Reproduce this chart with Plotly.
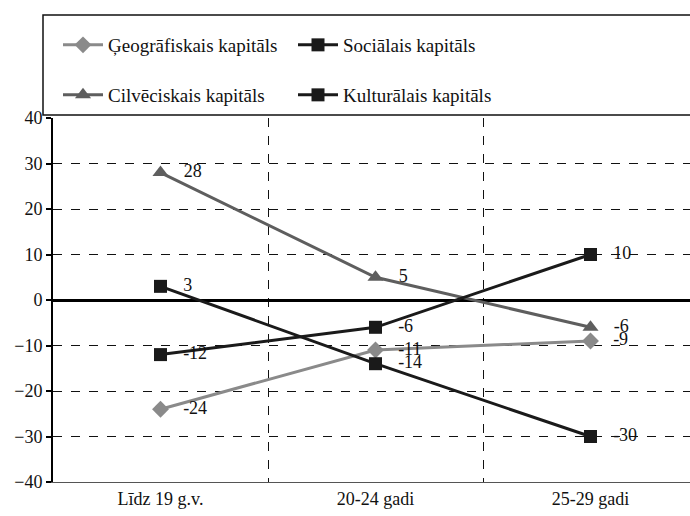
import plotly.graph_objects as go

categories = ["Līdz 19 g.v.", "20-24 gadi", "25-29 gadi"]
geo = [-24, -11, -9]
soc = [3, -14, -30]
cilv = [28, 5, -6]
kult = [-12, -6, 10]
y_ticks = [-40, -30, -20, -10, 0, 10, 20, 30, 40]

FONT = "Liberation Serif, Times New Roman, serif"
xpos = list(range(len(categories)))

series = [
    ("Ģeogrāfiskais kapitāls", geo, "#8a8a8a", "diamond", 13, "legend"),
    ("Sociālais kapitāls", soc, "#1a1a1a", "square", 13, "legend"),
    ("Cilvēciskais kapitāls", cilv, "#5e5e5e", "triangle-up", 14, "legend2"),
    ("Kulturālais kapitāls", kult, "#1a1a1a", "square", 13, "legend2"),
]

fig = go.Figure()
for name, vals, color, symbol, size, leg in series:
    fig.add_trace(go.Scatter(
        x=xpos, y=vals, name=name, mode="lines+markers+text",
        line=dict(color=color, width=3),
        marker=dict(symbol=symbol, size=size, color=color),
        text=["   " + str(v) for v in vals],
        textposition="middle right",
        textfont=dict(family=FONT, size=18, color="#111111"),
        legend=leg, cliponaxis=False,
    ))

# plot geometry (pixels)
W, H = 690, 516
L, R, T, B = 53, 0, 118, 34
plot_h = H - T - B
plot_w = W - L - R
cat_px = 215.0

def px_x(p):
    return (p - L) / plot_w

def px_y(p):
    return (H - B - p) / plot_h

legend_style = dict(orientation="h", x=px_x(58), xanchor="left", yanchor="middle",
                    entrywidth=180, font=dict(family=FONT, size=19, color="#111111"),
                    bgcolor="rgba(0,0,0,0)", itemwidth=40)

fig.update_layout(
    width=W, height=H,
    margin=dict(l=L, r=R, t=T, b=B),
    paper_bgcolor="white", plot_bgcolor="white",
    font=dict(family=FONT, size=18, color="#111111"),
    showlegend=True,
    legend=dict(y=px_y(45), **legend_style),
    legend2=dict(y=px_y(95), **legend_style),
    shapes=[
        dict(type="rect", xref="paper", yref="paper",
             x0=px_x(43), x1=px_x(700), y0=px_y(115), y1=px_y(15),
             line=dict(color="#111111", width=1.5), fillcolor="rgba(0,0,0,0)", layer="above"),
    ],
)

fig.update_xaxes(
    range=[-0.5, -0.5 + plot_w / cat_px],
    tickmode="array", tickvals=xpos, ticktext=categories,
    showgrid=False, zeroline=False,
    showline=True, linecolor="#555555", linewidth=1,
    ticks="", tickfont=dict(family=FONT, size=18, color="#111111"),
    minor=dict(tick0=0.5, dtick=1, showgrid=True, gridcolor="#111111",
               griddash="dash", gridwidth=1),
)
fig.update_yaxes(
    range=[-40, 40], tickmode="array", tickvals=y_ticks,
    showgrid=True, gridcolor="#111111", griddash="dash", gridwidth=1,
    zeroline=True, zerolinecolor="#000000", zerolinewidth=3,
    showline=True, linecolor="#000000", linewidth=2,
    ticks="outside", ticklen=5, tickcolor="#000000", tickwidth=1.5,
    tickfont=dict(family=FONT, size=18, color="#111111"),
)

fig.write_html("out.html")
